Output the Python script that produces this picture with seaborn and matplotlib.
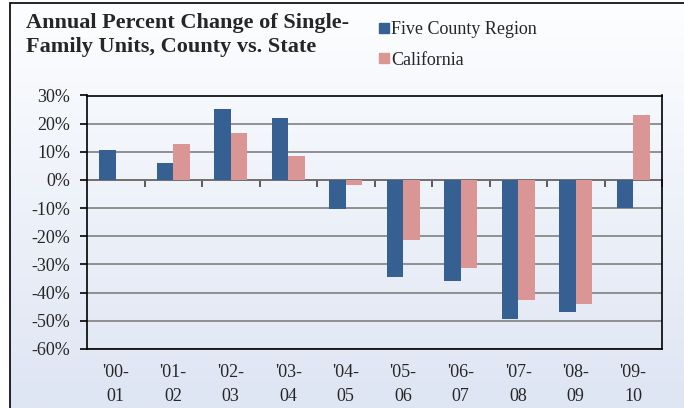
import numpy as np
import pandas as pd
import matplotlib
matplotlib.use('Agg')
import matplotlib.pyplot as plt
import seaborn as sns
from matplotlib.patches import Rectangle
from matplotlib.lines import Line2D
from matplotlib.ticker import MultipleLocator, FuncFormatter

# values (percent change)
periods = ["'00-\n01", "'01-\n02", "'02-\n03", "'03-\n04", "'04-\n05",
           "'05-\n06", "'06-\n07", "'07-\n08", "'08-\n09", "'09-\n10"]
five_county = [10.6, 6.1, 25.3, 21.9, -10.2, -34.5, -35.9, -49.3, -46.9, -9.9]
california = [0.0, 12.8, 16.6, 8.6, -1.9, -21.3, -31.2, -42.6, -43.9, 22.9]
series_names = ['Five County Region', 'California']
series_colors = ['#366092', '#DA9694']

df = pd.DataFrame({
    'period': periods * 2,
    'series': [series_names[0]] * len(periods) + [series_names[1]] * len(periods),
    'change': five_county + california,
})

sns.set_theme(style='white')
plt.rcParams['font.family'] = ['Liberation Serif', 'DejaVu Serif']

fig = plt.figure(figsize=(6.84, 4.08), dpi=100)

# soft vertical gradient behind everything, like the original
bg = fig.add_axes([10 / 684, 0, 1 - 10 / 684, 1 - 3 / 408], zorder=-5)
top_rgb = np.array([253, 254, 255]) / 255
bot_rgb = np.array([222, 229, 243]) / 255
t = np.linspace(0, 1, 256)[:, None]
grad = (top_rgb * (1 - t) + bot_rgb * t)[:, None, :]
bg.imshow(grad, aspect='auto', extent=[0, 1, 0, 1])
bg.axis('off')

ax = fig.add_axes([87 / 684, 1 - 349 / 408, (662 - 87) / 684, (349 - 95.5) / 408])
ax.set_facecolor('none')

sns.barplot(data=df, x='period', y='change', hue='series', palette=series_colors,
            width=0.57, saturation=1, legend=False, ax=ax, linewidth=0)

ax.set_ylim(-60, 30)
ax.set_xlim(-0.5, len(periods) - 0.5)
ax.yaxis.set_major_locator(MultipleLocator(10))
ax.yaxis.set_major_formatter(FuncFormatter(lambda v, p: f'{v:.0f}%'))
ax.grid(axis='y', color='#808080', linewidth=1.2)
ax.grid(axis='x', visible=False)
ax.set_axisbelow(True)
ax.set_xlabel('')
ax.set_ylabel('')

for s in ax.spines.values():
    s.set_color('black')
    s.set_linewidth(1.2)
    s.set_visible(True)

ax.tick_params(axis='y', which='major', direction='out', length=5, width=1.2,
               color='black', labelsize=13, pad=7, left=True)
ax.tick_params(axis='x', length=0, labelsize=13, pad=11)
for lbl in ax.get_xticklabels():
    lbl.set_linespacing(1.5)

# category axis crosses at 0% with tick marks between groups
sec = ax.secondary_xaxis(2 / 3)
sec.set_alignment('bottom')
sec.set_xticks(np.arange(0.5, len(periods), 1))
sec.tick_params(direction='out', length=5, width=1.2, color='#404040', labelbottom=False)
sec.spines['bottom'].set_color('black')
sec.spines['bottom'].set_linewidth(1.2)

fig.text(26 / 684, 1 - 13 / 408,
         'Annual Percent Change of Single-\nFamily Units, County vs. State',
         ha='left', va='top', fontsize=16, fontweight='bold', linespacing=1.25)

handles = [Line2D([], [], marker='s', linestyle='none', markersize=7.5,
                  markerfacecolor=c, markeredgecolor=c) for c in series_colors]
fig.legend(handles, series_names, loc='upper left', bbox_to_anchor=(372 / 684, 1 - 14 / 408),
           frameon=False, fontsize=13, handlelength=0.55, handletextpad=0.1,
           labelspacing=0.75, borderaxespad=0)

fig.add_artist(Rectangle((10 / 684, -0.1), 1.0, 1.1 - 3 / 408, transform=fig.transFigure,
                         fill=False, edgecolor='black', linewidth=1.2))

fig.savefig('out.png', dpi=100)
